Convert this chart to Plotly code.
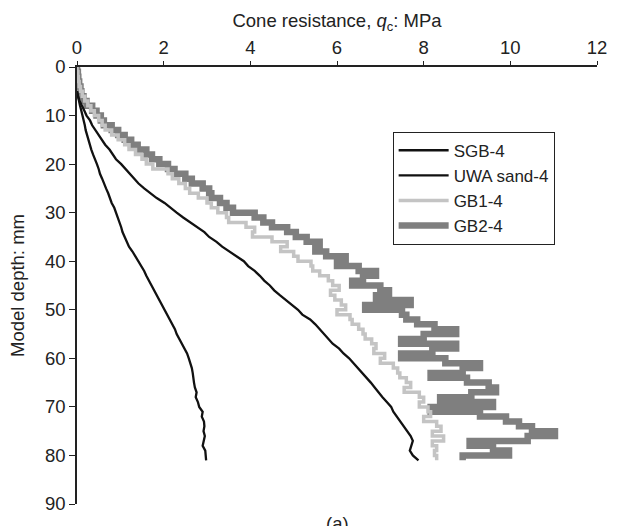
import plotly.graph_objects as go

# ---- data ----
depth_black = list(range(5, 82))
sgb_x = [0.0, 0.02, 0.05, 0.07, 0.1, 0.13, 0.15, 0.18, 0.2, 0.23, 0.27, 0.3, 0.33, 0.37, 0.42,
         0.46, 0.5, 0.53, 0.58, 0.62, 0.67, 0.72, 0.76, 0.8, 0.86, 0.9, 0.95, 0.99, 1.02, 1.05,
         1.1, 1.15, 1.2, 1.28, 1.35, 1.42, 1.5, 1.55, 1.6, 1.66, 1.72, 1.78, 1.84, 1.9, 1.96,
         2.02, 2.08, 2.14, 2.2, 2.26, 2.3, 2.36, 2.42, 2.49, 2.54, 2.58, 2.62, 2.65, 2.67, 2.68,
         2.7, 2.72, 2.76, 2.74, 2.79, 2.82, 2.9, 2.88, 2.93, 2.94, 2.92, 2.95, 2.93, 2.9, 2.96,
         2.97, 2.98]
uwa_x = [0.0, 0.02, 0.06, 0.12, 0.17, 0.22, 0.3, 0.35, 0.42, 0.5, 0.57, 0.65, 0.75, 0.83, 0.9,
         1.02, 1.12, 1.22, 1.32, 1.42, 1.55, 1.7, 1.84, 2.02, 2.15, 2.3, 2.45, 2.62, 2.78, 2.94,
         3.05, 3.22, 3.35, 3.52, 3.68, 3.85, 3.95, 4.1, 4.22, 4.32, 4.45, 4.55, 4.68, 4.82, 4.95,
         5.1, 5.2, 5.38, 5.5, 5.6, 5.72, 5.82, 5.9, 6.05, 6.15, 6.28, 6.38, 6.5, 6.58, 6.68,
         6.78, 6.87, 6.95, 7.05, 7.15, 7.25, 7.3, 7.38, 7.45, 7.55, 7.62, 7.7, 7.75, 7.72, 7.68,
         7.75, 7.88]

depth_gray = list(range(0, 82))
gb1_x = [0, 0, 0.02, 0.03, 0.05, 0.08, 0.12, 0.18, 0.25, 0.32, 0.4, 0.5, 0.58, 0.65, 0.8, 0.95,
         1.1, 1.2, 1.35, 1.5, 1.6, 1.75, 2.1, 2.2, 2.35, 2.5, 2.6, 2.8, 3.0, 3.1, 3.25, 3.45,
         3.5, 3.9, 4.1, 4.05, 4.5, 4.85, 4.7, 5.0, 5.1, 5.4, 5.44, 5.6, 5.8, 5.9, 6.05, 5.85,
         5.95, 6.1, 6.2, 6.0, 6.3, 6.35, 6.5, 6.6, 6.65, 6.8, 6.9, 6.85, 7.1, 7.0, 7.3, 7.4,
         7.45, 7.6, 7.7, 7.55, 7.9, 8.0, 7.9, 8.1, 8.16, 8.0, 8.3, 8.4, 8.2, 8.46, 8.2, 8.3,
         8.25, 8.3]
gb2_x = [0.0, 0.0, 0.02, 0.03, 0.05, 0.08, 0.1, 0.15, 0.22, 0.35, 0.45, 0.55, 0.62, 0.8, 0.95,
         1.1, 1.25, 1.4, 1.6, 1.73, 1.9, 2.1, 2.25, 2.5, 2.65, 2.9, 3.05, 3.1, 3.3, 3.45, 3.6,
         4.1, 4.3, 4.5, 4.85, 5.05, 5.3, 5.6, 5.5, 5.75, 6.2, 6.0, 6.5, 6.9, 6.6, 6.35, 7.0,
         7.2, 6.9, 7.7, 6.65, 7.5, 7.6, 7.85, 8.25, 8.75, 8.0, 7.48, 8.75, 8.2, 7.48, 8.5, 9.3,
         8.9, 8.16, 9.0, 9.5, 9.67, 9.1, 8.38, 9.6, 8.16, 9.3, 9.9, 10.2, 10.5, 11.03, 10.4,
         9.06, 9.6, 9.97, 8.9]

series_names = ["SGB-4", "UWA sand-4", "GB1-4", "GB2-4"]
x_ticks = [0, 2, 4, 6, 8, 10, 12]
y_ticks = [0, 10, 20, 30, 40, 50, 60, 70, 80, 90]

FONT = "Liberation Sans, Arial, sans-serif"
FS = 18.5

fig = go.Figure()
fig.add_trace(go.Scatter(x=gb2_x, y=depth_gray, mode="lines", name=series_names[3],
                         line=dict(color="#7f7f7f", width=6.5, shape="hv"), legendrank=4))
fig.add_trace(go.Scatter(x=gb1_x, y=depth_gray, mode="lines", name=series_names[2],
                         line=dict(color="#c4c4c4", width=3.5, shape="hv"), legendrank=3))
fig.add_trace(go.Scatter(x=uwa_x, y=depth_black, mode="lines", name=series_names[1],
                         line=dict(color="#111111", width=2.3), legendrank=2))
fig.add_trace(go.Scatter(x=sgb_x, y=depth_black, mode="lines", name=series_names[0],
                         line=dict(color="#111111", width=2.3), legendrank=1))

fig.update_layout(
    width=619, height=526,
    margin=dict(l=77, r=13, t=67, b=20),
    paper_bgcolor="white", plot_bgcolor="white",
    font=dict(family=FONT, size=FS, color="#222"),
    showlegend=True,
    legend=dict(x=0.607, y=0.852, xanchor="left", yanchor="top",
                bordercolor="#222", borderwidth=1, bgcolor="white",
                font=dict(size=17, family=FONT, color="#222"),
                tracegroupgap=0, itemwidth=50),
    xaxis=dict(side="top", range=[0, 12], tickvals=x_ticks, showgrid=False, zeroline=False,
               showline=True, linecolor="#222", linewidth=1.5, ticks="outside", ticklen=4,
               tickcolor="#222", tickfont=dict(size=FS),
               title=dict(text="Cone resistance, <i>q</i><sub>c</sub>: MPa",
                          font=dict(size=FS), standoff=4)),
    yaxis=dict(range=[90, 0], tickvals=y_ticks, showgrid=False, zeroline=False,
               showline=True, linecolor="#222", linewidth=1.5, ticks="outside", ticklen=6,
               tickcolor="#222", tickfont=dict(size=FS),
               title=dict(text="Model depth: mm", font=dict(size=FS), standoff=15)),
    annotations=[dict(text="(a)", xref="paper", yref="paper", x=0.5, y=-0.045,
                      xanchor="center", yanchor="middle", showarrow=False,
                      font=dict(size=FS))],
)

fig.write_html("out.html")
